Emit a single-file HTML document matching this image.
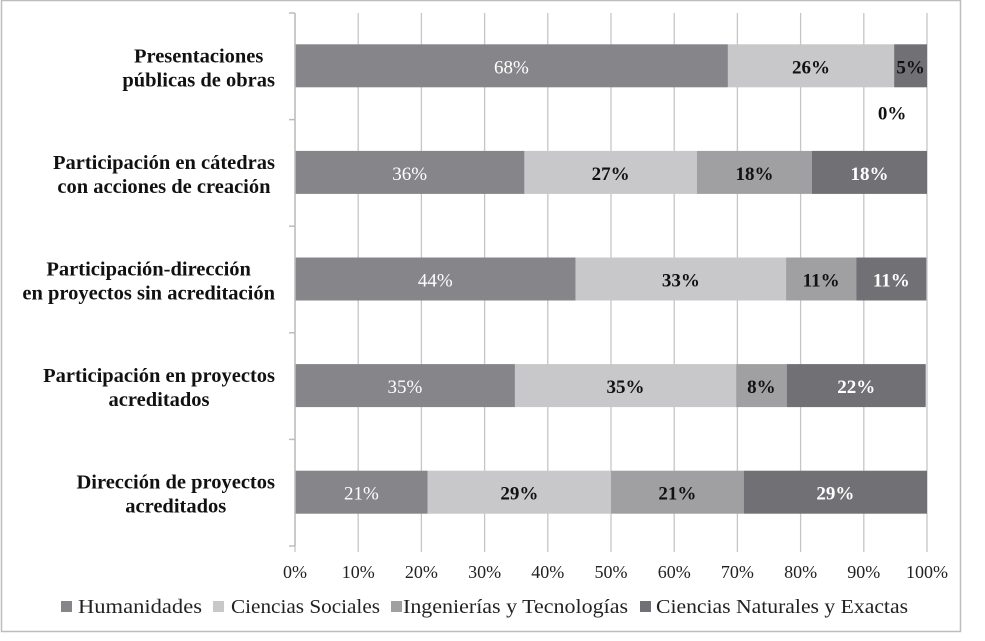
<!DOCTYPE html>
<html><head><meta charset="utf-8"><style>
html,body{margin:0;padding:0;background:#fff;width:985px;height:641px;overflow:hidden}
svg text{font-family:"Liberation Serif",serif}
</style></head><body>
<svg width="985" height="641">
<rect x="1.5" y="0.5" width="959" height="631" fill="#fff" stroke="#bdbdc0" stroke-width="1.5"/>
<g id="grid"></g><g id="bars"></g><g id="labels"></g><g id="axes"></g>
<g id="legend"></g>
</svg>
<script>
const categories=["Presentaciones|públicas de obras","Participación en cátedras|con acciones de creación","Participación-dirección|en proyectos sin acreditación","Participación en proyectos|acreditados","Dirección de proyectos|acreditados"];
const seriesNames=["Humanidades","Ciencias Sociales","Ingenierías y Tecnologías","Ciencias Naturales y Exactas"];
const humanidades=[68.5,36.3,44.4,34.8,21];
const sociales=[26.3,27.3,33.3,35,29];
const ingenierias=[0,18.2,11.1,8,21];
const naturales=[5.2,18.2,11.1,22,29];
const humLabels=["68%","36%","44%","35%","21%"];
const socLabels=["26%","27%","33%","35%","29%"];
const ingLabels=["0%","18%","11%","8%","21%"];
const natLabels=["5%","18%","11%","22%","29%"];
const xTicks=[0,10,20,30,40,50,60,70,80,90,100];
const colors=["#868589","#c8c8cb","#a0a0a3","#717074"];
const NS="http://www.w3.org/2000/svg";
const x0=295,x1=927,yTop=13,yBot=546;
const xs=v=>x0+(x1-x0)*v/100;
const band=(yBot-yTop)/categories.length;
const yc=i=>yTop+band*(i+0.5);
function mk(tag,attrs,parent,txt){const e=document.createElementNS(NS,tag);for(const k in attrs)e.setAttribute(k,attrs[k]);if(txt!==undefined)e.textContent=txt;document.getElementById(parent).appendChild(e);return e;}
xTicks.forEach(t=>{
  const g=mk('line',{x1:xs(t),x2:xs(t),y1:yTop,y2:yBot+6,stroke:'#c6c6c9','stroke-width':1.3},'grid');
  
  
  const l=mk('text',{x:xs(t),y:578,'text-anchor':'middle','font-size':18,fill:'#222'},'axes',t+'%');
  
  
});
const ax=mk('line',{x1:x0,x2:x0,y1:yTop,y2:yBot,stroke:'#bdbdc0','stroke-width':1.5},'axes');


for(let i=0;i<=categories.length;i++){mk('line',{x1:x0-6,x2:x0,y1:yTop+band*i,y2:yTop+band*i,stroke:'#bdbdc0','stroke-width':1.5},'axes');}
const series=[humanidades,sociales,ingenierias,naturales];
const labs=[humLabels,socLabels,ingLabels,natLabels];
categories.forEach((c,i)=>{
  let acc=0;const y=yc(i);
  series.forEach((s,j)=>{
    const v=s[i];const xa=xs(acc),xb=xs(acc+v);
    acc+=v;
    const r=mk('rect',{x:xa,y:y-22,width:Math.max(0,xb-xa),height:43,fill:colors[j]},'bars');
    
    
    let tx=(xa+xb)/2,ty=y+7,fill=j===0?'#fff':(j===3&&v>=8?'#fff':'#111'),w=j===0?'normal':'bold';
    if(v===0){tx=xa-2;ty=y+53;fill='#111';}
    const t=mk('text',{x:tx,y:ty,'text-anchor':'middle','font-size':19,'font-weight':w,fill:fill},'labels',labs[j][i]);
    
    
  });
  const parts=c.split('|');
  const ct=mk('text',{'text-anchor':'middle','font-size':20.5,'font-weight':'bold',fill:'#111'},'labels');
  
  
  const tss=parts.map((p,k)=>{const ts=document.createElementNS(NS,'tspan');ts.setAttribute('y',y-4+k*24);ts.textContent=p;ct.appendChild(ts);return ts;});
  let maxW=0;tss.forEach(ts=>{maxW=Math.max(maxW,ts.getComputedTextLength());});
  tss.forEach(ts=>ts.setAttribute('x',275-maxW/2));
});
const legX=[61,213,391,640];
const legTX=[78,231,403,656];
const legW=[124,149,225,252];
seriesNames.forEach((n,j)=>{
  const r=mk('rect',{x:legX[j],y:601,width:11,height:11,fill:colors[j]},'legend');
  
  
  const t=mk('text',{x:legTX[j],y:613,'font-size':19.5,fill:'#222',textLength:legW[j],lengthAdjust:'spacingAndGlyphs'},'legend',n);
  
  
});
</script>
</body></html>
